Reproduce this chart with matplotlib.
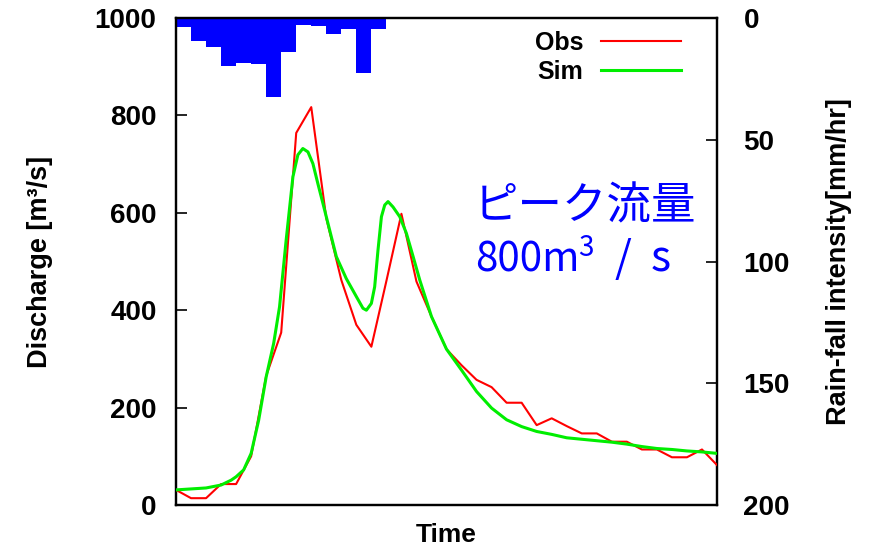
import numpy as np
import matplotlib.pyplot as plt

# observed discharge, one value per time step
obs_t = np.arange(37)
obs_q = [31, 14, 14, 43, 43, 100, 265, 354, 764, 817, 589, 462, 370, 325, 460,
         598, 459, 387, 320, 287, 257, 242, 210, 210, 164, 178, 162, 147, 147,
         130, 130, 114, 114, 98, 98, 114, 82]

# simulated discharge
sim_t = [0, 1, 2, 3, 3.67, 4, 4.5, 5, 5.5, 6, 6.5, 6.89, 7.33, 7.78, 8.11,
         8.44, 8.78, 9.11, 9.44, 9.78, 10.22, 10.67, 11.33, 12, 12.44, 12.67,
         13, 13.22, 13.44, 13.67, 13.89, 14.11, 14.44, 14.89, 15.33, 15.78,
         16.22, 17, 18, 19, 20, 21, 22, 23, 24, 25, 26, 27, 28, 29, 30, 31, 32,
         33, 34, 35, 36]
sim_q = [31, 33, 35, 41, 51, 58, 72, 106, 174, 263, 332, 407, 544, 674, 719,
         732, 725, 701, 660, 619, 565, 510, 465, 428, 404, 400, 414, 448, 523,
         592, 616, 623, 612, 592, 558, 510, 462, 387, 320, 277, 233, 199, 175,
         161, 151, 145, 138, 135, 132, 129, 125, 120, 116, 114, 111, 109, 106]

# rainfall intensity [mm/hr] per time step
rain_t = np.arange(26)
rain = [3.6, 9.4, 11.8, 19.7, 18.6, 18.9, 32.3, 14.1, 2.9, 3.1, 6.7, 4.5,
        22.4, 4.6, 0, 0, 0, 0, 0, 0, 0, 0, 0, 0, 0.3, 0.3]

plt.rcParams['font.family'] = ['Liberation Sans', 'DejaVu Sans']

W, H = 870, 552
fig = plt.figure(figsize=(W / 100, H / 100), dpi=100)
ax = fig.add_axes([176 / W, 47 / H, 541 / W, 487 / H])

ax.plot(obs_t, obs_q, color='#ff0000', lw=1.5, label='Obs', zorder=3)
ax.plot(sim_t, sim_q, color='#00ee00', lw=2.2, label='Sim', zorder=4)

ax.set_xlim(0, 36)
ax.set_ylim(0, 1000)
ax.set_yticks([0, 200, 400, 600, 800, 1000])
ax.set_xticks([])
ax.tick_params(axis='y', direction='in', length=8, width=1.2, labelsize=20,
               right=True, pad=14)
for lab in ax.get_yticklabels():
    lab.set_fontweight('bold')
for s in ax.spines.values():
    s.set_linewidth(1.6)

ax.set_ylabel('Discharge [m³/s]', fontsize=19.5, fontweight='bold', labelpad=30)
ax.set_xlabel('Time', fontsize=19, fontweight='bold', labelpad=13)

# rainfall on an inverted right axis
ax2 = ax.twinx()
ax2.bar(rain_t, rain, width=1, align='edge', color='#0000ff', zorder=2)
ax2.set_ylim(200, 0)
ax2.set_yticks([0, 50, 100, 150, 200])
ax2.tick_params(axis='y', direction='in', length=8, width=1.2, labelsize=20,
                pad=19)
for lab in ax2.get_yticklabels():
    lab.set_fontweight('bold')
ax2.set_ylabel('Rain-fall intensity[mm/hr]', fontsize=19.5, fontweight='bold',
               labelpad=26)
for s in ax2.spines.values():
    s.set_linewidth(1.6)

ax.set_zorder(ax2.get_zorder() + 1)
ax.patch.set_visible(False)

ax.legend(loc='upper right', bbox_to_anchor=(0.975, 1.02), frameon=False,
          markerfirst=False, handlelength=3.2, handletextpad=0.7,
          labelspacing=0.2, prop={'size': 18, 'weight': 'bold'})

# annotation text, placed in figure pixels
jp = ['Noto Sans CJK JP', 'DejaVu Sans']
blue = '#0000ff'
def put(x, y, s, size):
    fig.text(x / W, 1 - y / H, s, color=blue, fontsize=size, family=jp,
             ha='left', va='baseline')

put(474, 219, 'ピーク流量', 32)
put(475, 272, '800m', 29)
put(578, 256, '3', 20)
put(615, 272, '/', 31)
put(651, 272, 's', 31)

fig.savefig('out.png', dpi=100)
